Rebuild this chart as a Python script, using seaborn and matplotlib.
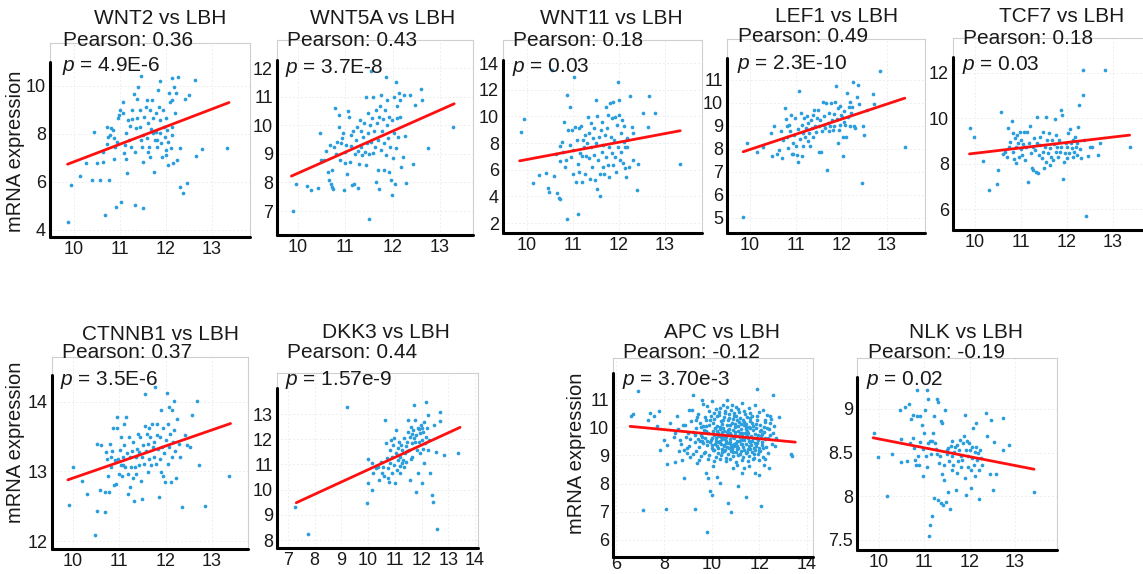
import matplotlib
matplotlib.use('Agg')
import matplotlib.pyplot as plt
import seaborn as sns
import pandas as pd

W, H = 1143, 574

# LBH expression (x) against the gene's mRNA expression (y)
wnt2_points = [
    (9.86, 4.32), (9.93, 5.86), (10.13, 6.25), (10.4, 6.08), (10.56, 6.08), (10.76, 6.08),
    (10.25, 6.78), (10.5, 6.78), (10.44, 8.1), (10.68, 4.63), (10.91, 4.97), (11.03, 5.18),
    (11.32, 5.04), (11.5, 4.9), (10.64, 6.82), (10.64, 7.26), (10.71, 7.6), (10.74, 7.86),
    (10.78, 7.96), (10.72, 8.3), (10.81, 8.26), (10.84, 8.17), (10.86, 7.82), (10.9, 7.47),
    (10.88, 6.94), (10.94, 7.68), (10.96, 8.65), (10.98, 8.79), (11.0, 9.0), (11.06, 9.35),
    (11.07, 8.86), (11.09, 7.19), (11.11, 7.54), (11.13, 6.94), (11.14, 8.03), (11.16, 6.36),
    (11.18, 8.58), (11.2, 7.75), (11.22, 8.33), (11.24, 7.47), (11.27, 8.61), (11.3, 9.67),
    (11.32, 7.26), (11.35, 8.24), (11.36, 9.44), (11.38, 8.65), (11.4, 9.97), (11.43, 9.0),
    (11.44, 8.31), (11.45, 10.42), (11.48, 7.47), (11.5, 6.85), (11.51, 7.96), (11.53, 8.72),
    (11.56, 9.14), (11.58, 7.82), (11.59, 9.42), (11.61, 8.44), (11.63, 7.47), (11.65, 9.0),
    (11.66, 7.06), (11.68, 8.19), (11.7, 9.42), (11.72, 8.65), (11.74, 6.43), (11.76, 7.75),
    (11.78, 8.86), (11.79, 8.1), (11.81, 7.47), (11.83, 9.83), (11.85, 9.14), (11.87, 10.21),
    (11.87, 8.58), (11.88, 8.03), (11.9, 7.61), (11.92, 7.06), (11.94, 9.0), (11.95, 8.31),
    (11.97, 7.89), (11.99, 7.12), (12.01, 8.65), (12.02, 8.17), (12.05, 6.71), (12.05, 7.68),
    (12.07, 9.72), (12.08, 9.35), (12.1, 7.4), (12.12, 9.42), (12.14, 10.32), (12.14, 8.31),
    (12.15, 6.78), (12.17, 9.94), (12.19, 8.86), (12.21, 9.69), (12.23, 6.92), (12.27, 10.39),
    (12.3, 7.4), (12.31, 5.81), (12.37, 5.53), (12.41, 9.44), (12.46, 5.97), (12.5, 9.62),
    (12.62, 10.25), (12.65, 7.08), (12.78, 7.36), (13.33, 7.43), (11.25, 9.0), (11.8, 7.75),
    (11.61, 7.26), (12.01, 7.33), (12.12, 7.96), (11.72, 8.03), (11.46, 7.75),
]
wnt5a_points = [
    (9.89, 7.0), (9.96, 7.93), (10.18, 7.87), (10.28, 7.73), (10.42, 7.81), (10.47, 9.72),
    (10.49, 8.8), (10.55, 8.8), (10.6, 9.1), (10.64, 8.37), (10.65, 8.08), (10.67, 9.31),
    (10.69, 7.96), (10.71, 7.84), (10.72, 8.45), (10.74, 7.78), (10.76, 9.25), (10.79, 10.6),
    (10.81, 9.01), (10.83, 9.42), (10.86, 9.95), (10.87, 10.36), (10.88, 8.78), (10.9, 9.37),
    (10.93, 9.54), (10.95, 9.72), (10.97, 7.73), (10.99, 8.69), (11.0, 9.07), (11.02, 9.31),
    (11.04, 8.31), (11.06, 10.48), (11.07, 10.3), (11.09, 8.72), (11.12, 9.66), (11.13, 9.27),
    (11.15, 7.9), (11.16, 9.78), (11.19, 7.96), (11.2, 9.01), (11.22, 9.48), (11.24, 9.95),
    (11.26, 7.81), (11.27, 9.1), (11.29, 8.66), (11.31, 10.18), (11.33, 9.78), (11.34, 9.25),
    (11.36, 8.96), (11.38, 9.6), (11.39, 10.07), (11.41, 9.07), (11.43, 11.0), (11.44, 8.6),
    (11.45, 9.37), (11.47, 10.42), (11.48, 9.72), (11.5, 6.73), (11.51, 9.01), (11.52, 10.01),
    (11.54, 11.88), (11.55, 9.42), (11.57, 10.24), (11.58, 9.04), (11.59, 11.0), (11.61, 9.78),
    (11.62, 9.25), (11.64, 10.54), (11.65, 8.02), (11.67, 10.09), (11.68, 8.43), (11.69, 9.48),
    (11.71, 10.3), (11.72, 7.78), (11.74, 10.66), (11.75, 9.13), (11.76, 11.06), (11.78, 9.78),
    (11.79, 10.21), (11.81, 8.43), (11.82, 9.37), (11.83, 10.54), (11.85, 11.68), (11.86, 8.96),
    (11.88, 10.89), (11.89, 10.01), (11.91, 9.54), (11.92, 10.3), (11.93, 8.37), (11.95, 9.25),
    (11.96, 8.08), (11.98, 7.55), (11.99, 10.18), (12.0, 8.84), (12.02, 11.0), (12.03, 9.72),
    (12.05, 7.94), (12.06, 11.5), (12.07, 9.19), (12.09, 10.24), (12.1, 10.66), (12.12, 9.6),
    (12.13, 11.12), (12.15, 10.89), (12.16, 10.3), (12.17, 8.55), (12.24, 11.06), (12.27, 9.62),
    (12.29, 7.98), (12.22, 8.9), (12.36, 11.04), (12.43, 8.66), (12.47, 10.71), (12.6, 11.26),
    (12.61, 10.89), (12.74, 9.19), (13.28, 9.93),
]
wnt11_points = [
    (9.87, 8.85), (9.94, 9.78), (10.14, 5.0), (10.27, 5.58), (10.42, 5.76), (10.46, 4.65),
    (10.48, 4.33), (10.54, 13.5), (10.59, 5.5), (10.64, 7.17), (10.65, 4.25), (10.69, 3.9),
    (10.72, 3.82), (10.71, 6.64), (10.72, 7.77), (10.76, 8.1), (10.78, 7.34), (10.8, 9.6),
    (10.83, 6.21), (10.85, 6.76), (10.87, 2.32), (10.88, 11.61), (10.9, 8.97), (10.93, 10.73),
    (10.94, 7.84), (10.95, 6.96), (10.98, 8.97), (11.0, 5.71), (11.01, 7.47), (11.03, 12.92),
    (11.05, 9.23), (11.07, 5.08), (11.08, 8.22), (11.1, 2.7), (11.11, 6.46), (11.13, 9.15),
    (11.14, 5.83), (11.16, 7.22), (11.17, 9.28), (11.19, 5.08), (11.2, 7.02), (11.21, 8.22),
    (11.23, 7.72), (11.25, 8.6), (11.27, 5.71), (11.29, 7.02), (11.3, 7.97), (11.32, 9.98),
    (11.34, 6.84), (11.35, 8.72), (11.37, 5.33), (11.39, 7.72), (11.4, 9.48), (11.42, 6.21),
    (11.43, 8.35), (11.45, 7.09), (11.46, 9.1), (11.48, 5.26), (11.49, 11.24), (11.5, 7.97),
    (11.52, 4.58), (11.53, 10.03), (11.55, 6.71), (11.56, 8.47), (11.58, 4.0), (11.59, 5.71),
    (11.61, 8.97), (11.62, 7.34), (11.63, 9.6), (11.65, 6.21), (11.66, 7.84), (11.68, 5.66),
    (11.69, 8.6), (11.71, 6.96), (11.72, 10.73), (11.74, 9.1), (11.75, 6.34), (11.76, 10.1),
    (11.78, 7.72), (11.79, 5.46), (11.81, 10.98), (11.82, 8.47), (11.84, 7.22), (11.85, 9.85),
    (11.87, 6.34), (11.88, 11.11), (11.89, 8.22), (11.91, 9.98), (11.92, 6.96), (11.94, 5.83),
    (11.95, 9.35), (11.97, 12.54), (11.98, 7.72), (12.0, 10.1), (12.01, 11.24), (12.02, 6.76),
    (12.04, 8.72), (12.05, 7.34), (12.07, 9.73), (12.08, 6.51), (12.1, 8.1), (12.11, 9.28),
    (12.13, 6.09), (12.14, 7.72), (12.15, 5.46), (12.17, 8.4), (12.18, 7.72), (12.21, 6.21),
    (12.24, 11.54), (12.28, 9.23), (12.3, 8.72), (12.31, 6.76), (12.39, 4.5), (12.42, 6.46),
    (12.52, 10.23), (12.64, 9.18), (12.66, 11.49), (12.78, 10.23), (13.33, 6.41),
]
lef1_points = [
    (9.85, 5.05), (9.94, 8.28), (10.15, 7.85), (10.28, 8.08), (10.45, 8.69), (10.48, 7.71),
    (10.53, 9.0), (10.59, 7.79), (10.63, 7.94), (10.67, 8.76), (10.69, 7.6), (10.73, 8.4),
    (10.77, 9.77), (10.79, 9.29), (10.8, 8.98), (10.82, 8.54), (10.84, 8.04), (10.86, 9.05),
    (10.88, 8.8), (10.89, 9.48), (10.91, 7.79), (10.94, 8.25), (10.95, 7.79), (10.97, 8.62),
    (10.99, 9.34), (11.01, 8.14), (11.02, 7.75), (11.04, 8.86), (11.06, 7.42), (11.08, 10.54),
    (11.1, 8.43), (11.11, 9.58), (11.13, 9.05), (11.14, 7.68), (11.16, 8.69), (11.17, 8.11),
    (11.19, 9.34), (11.21, 8.51), (11.23, 8.9), (11.24, 9.44), (11.26, 8.33), (11.28, 9.12),
    (11.3, 8.69), (11.32, 8.14), (11.33, 9.27), (11.35, 8.9), (11.38, 9.48), (11.39, 8.54),
    (11.4, 9.7), (11.43, 9.01), (11.45, 8.72), (11.46, 9.34), (11.48, 9.7), (11.5, 8.98),
    (11.52, 7.89), (11.54, 9.24), (11.55, 7.85), (11.57, 8.76), (11.59, 10.06), (11.61, 9.05),
    (11.62, 9.44), (11.65, 8.9), (11.67, 9.99), (11.68, 7.1), (11.7, 9.12), (11.72, 8.76),
    (11.74, 9.55), (11.76, 9.01), (11.77, 9.99), (11.79, 9.27), (11.81, 8.83), (11.83, 9.53),
    (11.84, 8.98), (11.87, 10.06), (11.89, 10.74), (11.9, 9.29), (11.92, 9.77), (11.93, 8.28),
    (11.95, 8.83), (11.96, 9.87), (11.98, 9.05), (11.99, 9.48), (12.01, 9.41), (12.03, 7.71),
    (12.03, 8.51), (12.05, 9.19), (12.06, 9.67), (12.08, 9.05), (12.11, 8.54), (12.12, 10.42),
    (12.14, 9.41), (12.16, 9.84), (12.18, 9.01), (12.19, 10.06), (12.21, 9.55), (12.23, 9.81),
    (12.25, 10.93), (12.28, 8.98), (12.3, 8.9), (12.34, 10.25), (12.36, 10.78), (12.38, 9.96),
    (12.45, 6.52), (12.47, 8.98), (12.5, 8.62), (12.56, 9.7), (12.69, 10.39), (12.71, 9.96),
    (12.84, 11.4), (13.39, 8.08),
]
tcf7_points = [
    (9.89, 9.58), (9.98, 9.19), (10.18, 8.12), (10.31, 6.85), (10.47, 7.1), (10.51, 7.72),
    (10.56, 10.26), (10.61, 8.43), (10.65, 8.53), (10.69, 8.31), (10.72, 9.58), (10.74, 8.75),
    (10.76, 8.97), (10.8, 9.89), (10.82, 8.53), (10.83, 9.34), (10.85, 8.19), (10.87, 9.12),
    (10.89, 8.75), (10.9, 8.02), (10.92, 9.26), (10.94, 8.9), (10.96, 8.31), (10.98, 9.41),
    (10.99, 8.63), (11.01, 9.04), (11.03, 8.38), (11.05, 8.87), (11.06, 9.41), (11.08, 8.16),
    (11.11, 8.75), (11.12, 9.41), (11.16, 7.21), (11.18, 8.9), (11.19, 9.66), (11.21, 8.46),
    (11.23, 7.8), (11.25, 8.75), (11.27, 7.72), (11.28, 9.12), (11.3, 8.6), (11.32, 7.65),
    (11.34, 8.9), (11.35, 10.07), (11.37, 7.58), (11.4, 8.38), (11.41, 9.19), (11.42, 8.82),
    (11.45, 8.24), (11.47, 9.41), (11.48, 8.53), (11.5, 7.8), (11.52, 8.75), (11.54, 10.04),
    (11.55, 8.09), (11.57, 9.04), (11.59, 8.46), (11.61, 9.36), (11.63, 7.94), (11.64, 8.68),
    (11.66, 8.31), (11.68, 9.04), (11.7, 8.16), (11.71, 8.87), (11.74, 9.95), (11.76, 8.53),
    (11.77, 9.26), (11.79, 8.75), (11.81, 8.31), (11.83, 9.04), (11.84, 8.53), (11.86, 8.75),
    (11.88, 10.36), (11.9, 10.14), (11.92, 7.33), (11.93, 8.09), (11.95, 8.46), (11.97, 8.93),
    (11.99, 8.24), (12.0, 8.75), (12.02, 9.34), (12.05, 8.46), (12.06, 9.55), (12.08, 8.9),
    (12.1, 8.68), (12.12, 8.31), (12.13, 9.04), (12.15, 8.53), (12.17, 9.19), (12.19, 8.75),
    (12.21, 8.38), (12.22, 8.9), (12.24, 9.63), (12.26, 10.58), (12.28, 8.63), (12.31, 8.24),
    (12.34, 11.02), (12.35, 12.12), (12.36, 9.04), (12.42, 5.7), (12.46, 8.34), (12.49, 8.75),
    (12.55, 8.75), (12.68, 8.38), (12.71, 8.93), (12.82, 12.12), (13.36, 8.72),
]
ctnnb1_points = [
    (9.91, 12.52), (9.99, 13.06), (10.2, 12.86), (10.3, 12.67), (10.47, 12.08), (10.51, 12.43),
    (10.51, 13.39), (10.58, 12.73), (10.61, 13.38), (10.69, 12.71), (10.69, 12.42), (10.72, 13.28),
    (10.74, 13.18), (10.75, 12.94), (10.77, 12.71), (10.8, 13.4), (10.81, 13.07), (10.83, 13.21),
    (10.85, 13.3), (10.87, 13.62), (10.89, 12.8), (10.9, 13.16), (10.93, 12.82), (10.94, 13.62),
    (10.95, 13.79), (10.98, 13.18), (11.0, 12.97), (11.01, 13.31), (11.03, 13.1), (11.04, 13.5),
    (11.06, 12.94), (11.07, 13.21), (11.08, 13.09), (11.1, 13.69), (11.11, 13.38), (11.13, 13.07),
    (11.14, 13.79), (11.16, 13.26), (11.18, 12.68), (11.19, 12.97), (11.21, 13.5), (11.23, 13.21),
    (11.24, 12.78), (11.26, 13.06), (11.27, 13.3), (11.29, 12.9), (11.3, 13.42), (11.32, 12.58),
    (11.34, 13.06), (11.36, 13.21), (11.37, 12.97), (11.39, 13.33), (11.4, 13.54), (11.42, 13.09),
    (11.43, 13.28), (11.45, 13.5), (11.46, 12.87), (11.48, 13.21), (11.5, 12.61), (11.52, 13.38),
    (11.53, 13.11), (11.55, 13.66), (11.56, 14.12), (11.58, 13.3), (11.59, 13.54), (11.61, 12.99),
    (11.62, 13.4), (11.63, 13.62), (11.65, 13.18), (11.66, 13.5), (11.68, 13.09), (11.7, 13.69),
    (11.72, 13.35), (11.74, 13.21), (11.75, 13.42), (11.77, 14.21), (11.79, 13.11), (11.81, 13.52),
    (11.82, 13.69), (11.84, 13.33), (11.85, 12.63), (11.87, 13.18), (11.88, 13.5), (11.89, 13.88),
    (11.91, 12.99), (11.92, 13.35), (11.94, 13.62), (11.95, 12.93), (11.97, 13.26), (11.99, 12.85),
    (12.0, 13.45), (12.02, 14.13), (12.04, 13.11), (12.05, 13.69), (12.07, 13.35), (12.08, 13.93),
    (12.1, 13.54), (12.11, 12.85), (12.13, 13.21), (12.14, 13.88), (12.15, 13.42), (12.17, 13.59),
    (12.18, 14.01), (12.21, 13.3), (12.23, 12.9), (12.24, 13.76), (12.28, 13.4), (12.31, 13.21),
    (12.35, 12.49), (12.42, 13.52), (12.46, 13.38), (12.52, 13.35), (12.57, 13.81), (12.68, 14.01),
    (12.71, 13.09), (12.84, 12.5), (13.37, 12.94),
]
dkk3_points = [
    (7.28, 9.3), (7.75, 8.24), (9.21, 13.29), (9.94, 9.48), (10.0, 11.2), (10.0, 10.25),
    (10.13, 9.98), (10.13, 11.04), (10.19, 10.65), (10.28, 10.84), (10.38, 10.91), (10.4, 10.38),
    (10.48, 11.11), (10.5, 10.65), (10.56, 10.91), (10.6, 10.54), (10.63, 12.76), (10.65, 11.86),
    (10.69, 11.24), (10.73, 10.45), (10.75, 10.84), (10.78, 10.31), (10.8, 11.57), (10.83, 11.04),
    (10.85, 11.97), (10.88, 10.65), (10.9, 11.31), (10.93, 11.77), (10.95, 10.98), (10.98, 12.03),
    (11.0, 10.25), (11.03, 11.44), (11.05, 12.37), (11.08, 10.78), (11.1, 11.64), (11.13, 11.17),
    (11.15, 11.9), (11.18, 10.65), (11.2, 11.31), (11.23, 11.77), (11.25, 11.04), (11.28, 11.57),
    (11.3, 11.17), (11.33, 10.91), (11.35, 12.03), (11.38, 11.44), (11.4, 11.73), (11.43, 11.11),
    (11.45, 11.9), (11.48, 12.76), (11.5, 12.3), (11.53, 11.57), (11.55, 12.1), (11.58, 10.38),
    (11.6, 12.5), (11.63, 11.84), (11.65, 11.31), (11.68, 12.37), (11.7, 12.03), (11.73, 13.36),
    (11.75, 12.76), (11.78, 9.92), (11.8, 12.17), (11.83, 11.57), (11.85, 12.43), (11.88, 10.65),
    (11.9, 11.9), (11.93, 12.23), (11.95, 11.44), (11.98, 12.56), (12.0, 11.97), (12.03, 10.25),
    (12.05, 12.3), (12.08, 11.04), (12.1, 12.7), (12.13, 11.84), (12.15, 13.49), (12.18, 12.1),
    (12.2, 12.43), (12.23, 11.57), (12.25, 12.96), (12.28, 11.97), (12.3, 10.65), (12.38, 9.79),
    (12.44, 9.52), (12.48, 12.56), (12.53, 11.5), (12.56, 8.42), (12.69, 13.09), (12.69, 12.74),
    (12.84, 11.37), (13.38, 11.47), (11.6, 11.2), (11.75, 11.9), (11.9, 12.4), (12.05, 11.6),
    (11.45, 11.55), (11.2, 10.95), (11.65, 12.2), (12.0, 12.45),
]
apc_points = [
    # outliers around the cloud
    (6.62, 10.38), (6.73, 10.48), (6.94, 11.3), (7.12, 7.07), (7.36, 10.27), (7.43, 10.5),
    (7.59, 10.41), (7.71, 10.05), (7.78, 10.56), (7.85, 9.2), (7.99, 9.55), (8.1, 7.09),
    (8.13, 8.7), (8.15, 9.38), (8.27, 10.15), (8.41, 9.67), (8.48, 8.78), (8.55, 10.41),
    (8.62, 9.14), (8.69, 9.55), (8.76, 8.84), (8.85, 8.19), (8.9, 10.09), (8.97, 9.26),
    (9.03, 9.79), (9.08, 8.96), (9.17, 10.62), (9.24, 11.15), (9.31, 7.1), (9.36, 10.27),
    (9.41, 8.73), (9.5, 9.5), (9.59, 10.98), (9.66, 10.03), (9.69, 9.08), (9.76, 8.37),
    (9.8, 6.3), (9.87, 8.19), (9.94, 7.72), (10.01, 7.6), (9.8, 10.74), (10.08, 8.61),
    (10.22, 8.25), (10.34, 8.01), (10.67, 7.3), (10.81, 7.0), (10.92, 8.55), (11.06, 8.67),
    (11.13, 7.9), (11.27, 8.37), (11.34, 8.55), (11.45, 7.54), (11.55, 8.61), (11.83, 8.39),
    (11.9, 11.36), (12.01, 8.31), (12.07, 7.21), (12.18, 8.67), (12.25, 9.61), (12.39, 8.55),
    (12.46, 10.41), (12.57, 11.15), (12.81, 10.36), (13.33, 9.06), (13.38, 8.99),
    # dense cloud
    (9.05, 10.62), (9.42, 10.48), (9.63, 10.81), (9.88, 10.57), (10.02, 10.93), (10.18, 10.66),
    (10.31, 10.44), (10.47, 10.78), (10.58, 10.52), (10.66, 10.97), (10.81, 10.61), (10.93, 10.39),
    (11.04, 10.72), (11.17, 10.55), (11.29, 10.86), (11.41, 10.47), (11.56, 10.68), (11.68, 10.41),
    (11.82, 10.77), (11.97, 10.53), (12.14, 10.62), (12.33, 10.44), (9.71, 10.36), (10.12, 10.28),
    (10.39, 10.21), (10.74, 10.33), (11.08, 10.26), (11.36, 10.19), (11.63, 10.31), (11.91, 10.24),
    (12.22, 10.17), (12.48, 10.29), (8.82, 10.08), (9.14, 10.22), (9.33, 9.97), (9.52, 10.14),
    (9.67, 9.91), (9.79, 10.06), (9.93, 10.25), (10.06, 9.88), (10.21, 10.03), (10.34, 9.94),
    (10.44, 10.12), (10.53, 9.86), (10.63, 10.07), (10.72, 9.95), (10.86, 10.16), (10.97, 9.83),
    (11.11, 10.04), (11.23, 9.92), (11.34, 10.09), (11.47, 9.87), (11.59, 10.02), (11.72, 9.9),
    (11.86, 10.11), (12.02, 9.85), (12.19, 10.0), (12.41, 9.93), (12.63, 10.06), (8.46, 9.78),
    (8.93, 9.66), (9.21, 9.82), (9.44, 9.58), (9.58, 9.74), (9.74, 9.63), (9.86, 9.81),
    (9.98, 9.55), (10.09, 9.72), (10.19, 9.61), (10.28, 9.79), (10.37, 9.52), (10.49, 9.69),
    (10.57, 9.57), (10.68, 9.76), (10.77, 9.48), (10.88, 9.64), (10.99, 9.73), (11.06, 9.51),
    (11.18, 9.67), (11.27, 9.79), (11.38, 9.56), (11.49, 9.71), (11.61, 9.46), (11.73, 9.62),
    (11.84, 9.77), (11.95, 9.53), (12.07, 9.68), (12.26, 9.57), (12.44, 9.74), (12.71, 9.6),
    (8.71, 9.41), (9.07, 9.33), (9.29, 9.47), (9.49, 9.29), (9.64, 9.43), (9.81, 9.36),
    (9.92, 9.49), (10.03, 9.27), (10.14, 9.4), (10.24, 9.32), (10.33, 9.46), (10.43, 9.24),
    (10.54, 9.38), (10.64, 9.3), (10.73, 9.44), (10.84, 9.22), (10.94, 9.35), (11.02, 9.45),
    (11.13, 9.26), (11.22, 9.39), (11.33, 9.31), (11.44, 9.42), (11.53, 9.23), (11.66, 9.36),
    (11.77, 9.28), (11.89, 9.43), (12.01, 9.25), (12.12, 9.37), (12.29, 9.3), (12.52, 9.41),
    (8.98, 9.08), (9.37, 9.16), (9.56, 8.98), (9.73, 9.12), (9.89, 9.03), (10.07, 9.18),
    (10.17, 8.94), (10.29, 9.09), (10.41, 9.01), (10.52, 9.14), (10.62, 8.92), (10.71, 9.06),
    (10.83, 9.17), (10.91, 8.97), (11.01, 9.11), (11.12, 9.02), (11.24, 9.15), (11.32, 8.93),
    (11.43, 9.07), (11.57, 8.99), (11.69, 9.13), (11.8, 8.91), (11.93, 9.05), (12.05, 9.16),
    (12.17, 8.96), (12.35, 9.09), (9.47, 8.83), (9.84, 8.87), (10.1, 8.79), (10.36, 8.86),
    (10.59, 8.81), (10.79, 8.89), (11.04, 8.78), (11.27, 8.85), (11.52, 8.8), (11.75, 8.88),
    (11.98, 8.82), (12.22, 8.86), (10.15, 9.97), (10.42, 9.83), (10.61, 9.64), (10.83, 9.71),
    (11.09, 9.86), (11.31, 9.59), (11.52, 9.78), (10.26, 9.49), (10.51, 9.33), (10.79, 9.57),
    (11.15, 9.5), (11.4, 9.66), (11.71, 9.52), (10.91, 9.9), (10.35, 10.01), (11.62, 9.96),
    (11.87, 9.33), (10.04, 9.62), (10.69, 10.26), (11.19, 10.33), (9.96, 10.41), (10.56, 10.58),
    (11.48, 10.36), (12.09, 9.91), (12.38, 9.63), (9.59, 9.52), (9.76, 10.27), (10.46, 9.13),
    (11.07, 9.21), (11.83, 9.19), (10.24, 10.38), (10.48, 10.24), (10.76, 10.09), (10.95, 10.49),
    (11.21, 9.8), (11.43, 10.02), (11.68, 10.14), (10.6, 9.45), (10.86, 9.29), (11.29, 9.41),
    (10.12, 9.2), (10.38, 9.67), (10.97, 10.11), (11.55, 9.35), (11.92, 9.62), (10.7, 9.9),
    # extra density in the middle of the cloud
    (10.05, 10.15), (10.22, 9.86), (10.31, 10.55), (10.45, 9.58), (10.52, 10.35), (10.66, 9.82),
    (10.73, 10.46), (10.8, 9.36), (10.88, 10.29), (10.96, 9.62), (11.03, 10.38), (11.1, 9.68),
    (11.16, 10.18), (11.25, 9.55), (11.33, 10.27), (11.39, 9.78), (11.46, 10.13), (11.54, 9.6),
    (11.61, 10.22), (11.67, 9.7), (11.75, 10.05), (11.81, 9.45), (11.88, 9.96), (11.96, 9.74),
    (12.04, 10.09), (12.13, 9.49), (12.2, 9.82), (12.31, 9.97), (10.02, 9.36), (10.18, 9.52),
    (10.27, 9.25), (10.4, 9.4), (10.58, 9.18), (10.75, 9.28), (10.92, 9.12), (11.05, 9.33),
    (11.2, 9.06), (11.37, 9.2), (11.5, 9.12), (11.63, 9.24), (11.79, 9.05), (11.98, 9.14),
    (12.14, 9.28), (9.9, 10.09), (9.75, 9.85), (9.55, 10.01), (9.62, 9.64), (9.83, 9.5),
    (10.11, 10.49), (10.36, 10.67), (10.63, 10.73), (10.87, 10.8), (11.12, 10.63), (11.38, 10.58),
    (11.63, 10.49), (11.9, 10.39), (10.5, 9.98), (10.78, 9.79), (11.0, 10.0), (11.22, 10.1),
    (11.45, 9.92), (10.28, 9.68), (10.62, 9.52), (10.95, 9.42), (11.28, 9.68), (11.58, 9.52),
    (11.85, 9.63), (12.1, 9.75), (12.25, 10.24), (12.45, 10.14), (12.58, 9.8), (12.68, 9.35),
    (9.12, 9.58), (9.3, 9.72), (9.4, 10.35), (8.6, 9.95), (8.85, 9.2), (9.22, 9.06),
]
nlk_points = [
    (9.89, 8.72), (9.98, 8.45), (10.18, 8.0), (10.29, 8.49), (10.46, 8.99), (10.49, 8.66),
    (10.49, 8.39), (10.57, 9.02), (10.62, 8.4), (10.66, 9.06), (10.69, 8.61), (10.71, 8.89),
    (10.74, 8.93), (10.75, 8.67), (10.77, 8.55), (10.79, 8.42), (10.81, 8.36), (10.83, 8.92),
    (10.84, 9.22), (10.86, 8.46), (10.88, 8.36), (10.9, 8.62), (10.91, 8.92), (10.94, 8.82),
    (10.96, 8.23), (10.97, 8.54), (10.99, 8.72), (11.01, 8.99), (11.03, 8.46), (11.05, 8.34),
    (11.06, 9.22), (11.08, 8.61), (11.09, 9.11), (11.11, 7.54), (11.12, 8.63), (11.13, 7.67),
    (11.15, 8.48), (11.16, 7.77), (11.18, 8.63), (11.19, 8.72), (11.21, 8.92), (11.22, 7.98),
    (11.24, 8.61), (11.25, 8.54), (11.27, 8.49), (11.28, 9.11), (11.3, 9.08), (11.31, 7.96),
    (11.33, 8.38), (11.34, 8.46), (11.36, 7.92), (11.37, 8.86), (11.39, 8.25), (11.4, 8.84),
    (11.41, 7.9), (11.43, 8.19), (11.44, 8.36), (11.46, 8.99), (11.47, 7.94), (11.49, 8.53),
    (11.5, 8.48), (11.52, 8.05), (11.53, 8.55), (11.55, 8.4), (11.56, 7.85), (11.58, 8.58),
    (11.6, 8.3), (11.61, 8.46), (11.62, 8.63), (11.64, 8.36), (11.65, 8.51), (11.67, 8.57),
    (11.69, 8.07), (11.71, 8.59), (11.72, 8.27), (11.75, 8.4), (11.77, 8.53), (11.78, 8.65),
    (11.8, 8.34), (11.82, 8.46), (11.84, 8.42), (11.86, 8.61), (11.87, 8.69), (11.89, 8.93),
    (11.9, 8.21), (11.92, 8.53), (11.93, 8.02), (11.95, 8.63), (11.96, 8.34), (11.97, 8.46),
    (11.99, 8.61), (12.0, 8.53), (12.02, 8.3), (12.03, 8.09), (12.05, 8.44), (12.06, 8.57),
    (12.08, 8.78), (12.09, 8.36), (12.11, 8.23), (12.12, 8.51), (12.14, 8.84), (12.15, 8.57),
    (12.17, 8.42), (12.18, 8.5), (12.2, 8.3), (12.21, 7.97), (12.23, 8.53), (12.26, 8.44),
    (12.28, 8.36), (12.37, 8.95), (12.39, 8.69), (12.45, 8.25), (12.48, 8.87), (12.51, 8.07),
    (12.54, 8.62), (12.59, 8.25), (12.73, 8.9), (12.73, 8.53), (12.87, 8.59), (13.42, 8.05),
]

# end points of the red regression lines
wnt2_fit = [(9.86, 6.74), (13.37, 9.31)]
wnt5a_fit = [(9.86, 8.22), (13.3, 10.75)]
wnt11_fit = [(9.84, 6.66), (13.33, 8.92)]
lef1_fit = [(9.85, 7.88), (13.39, 10.21)]
tcf7_fit = [(9.88, 8.43), (13.36, 9.26)]
ctnnb1_fit = [(9.89, 12.88), (13.4, 13.69)]
dkk3_fit = [(7.31, 9.48), (13.44, 12.47)]
apc_fit = [(6.59, 10.03), (13.51, 9.47)]
nlk_fit = [(9.87, 8.67), (13.42, 8.31)]

genes = ['WNT2', 'WNT5A', 'WNT11', 'LEF1', 'TCF7', 'CTNNB1', 'DKK3', 'APC', 'NLK']
pearson_r = ['0.36', '0.43', '0.18', '0.49', '0.18', '0.37', '0.44', '-0.12', '-0.19']
p_values = ['4.9E-6', '3.7E-8', '0.03', '2.3E-10', '0.03', '3.5E-6', '1.57e-9', '3.70e-3', '0.02']
all_points = [wnt2_points, wnt5a_points, wnt11_points, lef1_points, tcf7_points,
              ctnnb1_points, dkk3_points, apc_points, nlk_points]
all_fits = [wnt2_fit, wnt5a_fit, wnt11_fit, lef1_fit, tcf7_fit,
            ctnnb1_fit, dkk3_fit, apc_fit, nlk_fit]
x_ticks = [[10, 11, 12, 13]] * 6 + [[7, 8, 9, 10, 11, 12, 13, 14], [6, 8, 10, 12, 14], [10, 11, 12, 13]]
y_ticks = [[4, 6, 8, 10], [7, 8, 9, 10, 11, 12], [2, 4, 6, 8, 10, 12, 14], [5, 6, 7, 8, 9, 10, 11],
           [6, 8, 10, 12], [12, 13, 14], [8, 9, 10, 11, 12, 13], [6, 7, 8, 9, 10, 11], [7.5, 8, 8.5, 9]]

# panel layout in pixels: box (left, top, right, bottom), axis limits, top of black y-axis
layout = [
    dict(box=(50, 43, 250, 237), xlim=(9.478, 13.826), ylim=(3.708, 11.79), ytop=11.0,
         title=(160, 19), pear=(63, 40), p=(62, 66)),
    dict(box=(277, 40, 473, 235), xlim=(9.556, 13.697), ylim=(6.161, 12.979), ytop=12.28,
         title=(383, 19), pear=(287, 40), p=(285, 68)),
    dict(box=(503, 40, 702, 233), xlim=(9.478, 13.804), ylim=(1.25, 15.725), ytop=14.22,
         title=(611, 19), pear=(513, 40), p=(512, 67)),
    dict(box=(727, 39, 925, 233), xlim=(9.496, 13.832), ylim=(4.348, 12.78), ytop=11.96,
         title=(837, 17), pear=(738, 37), p=(737, 64)),
    dict(box=(953, 38, 1146, 230), xlim=(9.522, 13.717), ylim=(5.074, 13.544), ytop=12.71,
         title=(1062, 17), pear=(963, 39), p=(962, 65)),
    dict(box=(52, 357, 248, 549), xlim=(9.547, 13.777), ylim=(11.885, 14.647), ytop=14.39,
         title=(160, 334), pear=(62, 352), p=(60, 380)),
    dict(box=(277, 373, 478, 548), xlim=(6.588, 14.112), ylim=(7.683, 14.627), ytop=14.03,
         title=(386, 333), pear=(287, 352), p=(285, 380)),
    dict(box=(613, 358, 813, 557), xlim=(5.874, 14.251), ylim=(5.397, 12.454), ytop=11.92,
         title=(722, 333), pear=(623, 353), p=(622, 380)),
    dict(box=(857, 358, 1057, 550), xlim=(9.515, 13.927), ylim=(7.385, 9.584), ytop=9.366,
         title=(966, 333), pear=(868, 353), p=(866, 380)),
]
ylabel_pos = [(16, 151), (16, 442), (576, 453)]

sns.set_style('white')
plt.rcParams['font.family'] = ['Liberation Sans', 'DejaVu Sans']
plt.rcParams['mathtext.fontset'] = 'custom'
plt.rcParams['mathtext.it'] = 'Liberation Sans:italic'
plt.rcParams['mathtext.rm'] = 'Liberation Sans'

dot_color = '#2a9ddc'
text_color = '#1a1a1a'

fig = plt.figure(figsize=(W / 100, H / 100), dpi=100)


def fx(x):
    return x / W


def fy(y):
    return 1 - y / H


for i, gene in enumerate(genes):
    lay = layout[i]
    left, top, right, bottom = lay['box']
    ax = fig.add_axes([fx(left), fy(bottom), (right - left) / W, (bottom - top) / H])

    df = pd.DataFrame(all_points[i], columns=['LBH', 'expr'])
    sns.scatterplot(data=df, x='LBH', y='expr', ax=ax, s=7, color=dot_color,
                    linewidth=0, zorder=3)
    fit_df = pd.DataFrame(all_fits[i], columns=['LBH', 'expr'])
    sns.lineplot(data=fit_df, x='LBH', y='expr', ax=ax, color='#ff1010', lw=2.0, zorder=4)

    ax.set_xlim(*lay['xlim'])
    ax.set_ylim(*lay['ylim'])
    ax.set_xticks(x_ticks[i])
    ax.set_yticks(y_ticks[i])
    if gene == 'NLK':
        ax.set_yticklabels(['7.5', '8', '8.5', '9'])
    ax.tick_params(length=0, labelsize=13, colors=text_color, pad=3)
    if gene == 'APC':
        # the original squeezes these labels against the bottom edge
        ax.tick_params(axis='x', pad=-1)
    ax.set_xlabel('')
    ax.set_ylabel('')
    ax.grid(True, color='#eeeeee', lw=0.7, ls=(0, (2, 2)))
    ax.set_axisbelow(True)

    for s in ax.spines.values():
        s.set_color('#cfcfcf')
        s.set_linewidth(0.8)
    # the thick black axis lines of the original
    y0, y1 = lay['ylim']
    ax.axvline(lay['xlim'][0], ymin=0, ymax=(lay['ytop'] - y0) / (y1 - y0),
               color='black', lw=2.2, clip_on=False, zorder=5)
    ax.axhline(y0, color='black', lw=2.2, clip_on=False, zorder=5)

    tx, ty = lay['title']
    fig.text(fx(tx), fy(ty), f'{gene} vs LBH', ha='center', va='center',
             fontsize=15, color=text_color)
    px, py = lay['pear']
    fig.text(fx(px), fy(py), f'Pearson: {pearson_r[i]}', ha='left', va='center',
             fontsize=15, color=text_color)
    qx, qy = lay['p']
    fig.text(fx(qx), fy(qy), f'$p$ = {p_values[i]}', ha='left', va='center',
             fontsize=15, color=text_color)

for lx, ly in ylabel_pos:
    fig.text(fx(lx), fy(ly), 'mRNA expression', rotation=90, ha='center', va='center',
             fontsize=14.5, color=text_color)

fig.savefig('out.png', dpi=100)
